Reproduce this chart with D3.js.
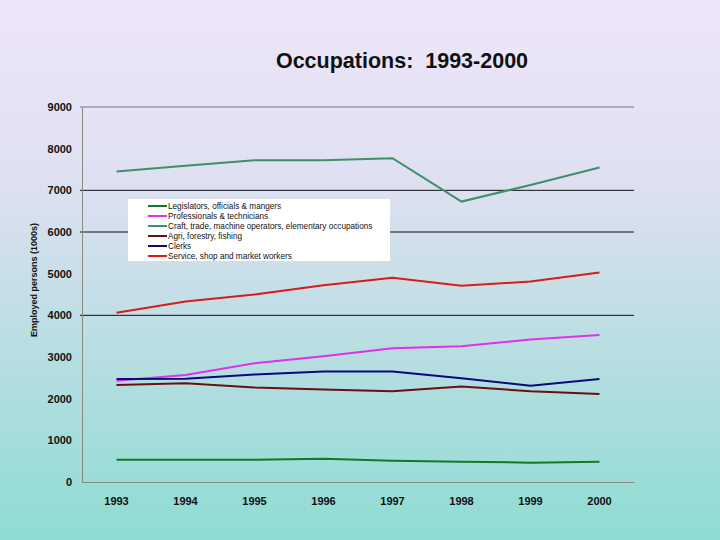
<!DOCTYPE html>
<html>
<head>
<meta charset="utf-8">
<script src="https://cdn.jsdelivr.net/npm/d3@7"></script>
<style>
  body { margin: 0; }
  svg { display: block; font-family: Arial, 'Liberation Sans', sans-serif; }
</style>
</head>
<body>
<div id="chart"></div>
<script>
// Data (thousands of employed persons)
const years = ['1993', '1994', '1995', '1996', '1997', '1998', '1999', '2000'];
const legislators = [536, 536, 536, 560, 512, 488, 464, 488];
const professionals = [2430, 2570, 2850, 3020, 3210, 3260, 3420, 3530];
const craft = [7450, 7590, 7720, 7720, 7770, 6730, 7130, 7550];
const agri = [2330, 2370, 2270, 2220, 2180, 2290, 2180, 2110];
const clerks = [2470, 2480, 2580, 2650, 2650, 2490, 2310, 2470];
const service = [4060, 4330, 4500, 4720, 4900, 4710, 4810, 5030];
const yTicks = [0, 1000, 2000, 3000, 4000, 5000, 6000, 7000, 8000, 9000];
const gridValues = [4000, 6000, 7000];

const series = [
  { name: 'Legislators, officials & mangers', values: legislators, color: '#107a22' },
  { name: 'Professionals & technicians', values: professionals, color: '#e030e8' },
  { name: 'Craft, trade, machine operators, elementary occupations', values: craft, color: '#3f8f6c' },
  { name: 'Agri, forestry, fishing', values: agri, color: '#6a1010' },
  { name: 'Clerks', values: clerks, color: '#0a0a78' },
  { name: 'Service, shop and market workers', values: service, color: '#d81c1c' }
];

const width = 720, height = 540;
const plot = { left: 82, right: 634, top: 107, bottom: 482 };

const svg = d3.select('#chart').append('svg')
  .attr('width', width)
  .attr('height', height);

// Background gradient
const grad = svg.append('defs').append('linearGradient')
  .attr('id', 'bg')
  .attr('x1', 0).attr('y1', 0).attr('x2', 0).attr('y2', 1);
grad.append('stop').attr('offset', '0%').attr('stop-color', '#efe6fa');
grad.append('stop').attr('offset', '35%').attr('stop-color', '#dde0f0');
grad.append('stop').attr('offset', '100%').attr('stop-color', '#8edcd2');
svg.append('rect').attr('width', width).attr('height', height).attr('fill', 'url(#bg)');

const x = d3.scaleBand()
  .domain(years)
  .range([plot.left, plot.right]);

const y = d3.scaleLinear()
  .domain([0, 9000])
  .range([plot.bottom, plot.top]);

// Title
svg.append('text')
  .attr('x', 402)
  .attr('y', 68)
  .attr('text-anchor', 'middle')
  .attr('font-size', 21.5)
  .attr('font-weight', 'bold')
  .attr('fill', '#111')
  .style('white-space', 'pre')
  .text('Occupations:  1993-2000');

// Gridlines (only some are visible in the original)
svg.append('g')
  .selectAll('line')
  .data(gridValues)
  .join('line')
  .attr('x1', plot.left - 2)
  .attr('x2', plot.right)
  .attr('y1', d => y(d))
  .attr('y2', d => y(d))
  .attr('stroke', '#111')
  .attr('stroke-width', 1);

// Top line at 9000
svg.append('line')
  .attr('x1', plot.left - 2).attr('x2', plot.right)
  .attr('y1', y(9000)).attr('y2', y(9000))
  .attr('stroke', '#777').attr('stroke-width', 1);

// Y axis
const yAxis = svg.append('g')
  .attr('transform', `translate(${plot.left},0)`)
  .call(d3.axisLeft(y).tickValues(yTicks).tickFormat(d3.format('d')).tickSize(0).tickPadding(10));
yAxis.select('.domain').attr('stroke', '#888');
yAxis.selectAll('text')
  .attr('font-size', 11)
  .attr('font-weight', 'bold')
  .attr('font-family', 'Arial, Liberation Sans, sans-serif')
  .attr('fill', '#111');

// X axis
const xAxis = svg.append('g')
  .attr('transform', `translate(0,${plot.bottom})`)
  .call(d3.axisBottom(x).tickSize(0).tickPadding(15));
xAxis.select('.domain').attr('stroke', '#888');
xAxis.selectAll('text')
  .attr('font-size', 11)
  .attr('font-weight', 'bold')
  .attr('font-family', 'Arial, Liberation Sans, sans-serif')
  .attr('fill', '#111');

// Y axis title
svg.append('text')
  .attr('transform', 'translate(37,280) rotate(-90)')
  .attr('text-anchor', 'middle')
  .attr('font-size', 9)
  .attr('font-weight', 'bold')
  .attr('fill', '#111')
  .text('Employed persons (1000s)');

// Lines
const line = d3.line()
  .x((d, i) => x(years[i]) + x.bandwidth() / 2)
  .y(d => y(d));

svg.append('g')
  .selectAll('path')
  .data(series)
  .join('path')
  .attr('d', d => line(d.values))
  .attr('fill', 'none')
  .attr('stroke', d => d.color)
  .attr('stroke-width', 2);

// Legend
const legend = svg.append('g').attr('transform', 'translate(128,199)');
legend.append('rect')
  .attr('width', 262)
  .attr('height', 62)
  .attr('fill', '#fff');

const items = legend.selectAll('g')
  .data(series)
  .join('g')
  .attr('transform', (d, i) => `translate(0,${7 + i * 10})`);

items.append('line')
  .attr('x1', 20).attr('x2', 39)
  .attr('stroke', d => d.color)
  .attr('stroke-width', 2);

items.append('text')
  .attr('x', 40)
  .attr('y', 3)
  .attr('font-size', 8.2)
  .attr('fill', '#111')
  .text(d => d.name);
</script>
</body>
</html>
